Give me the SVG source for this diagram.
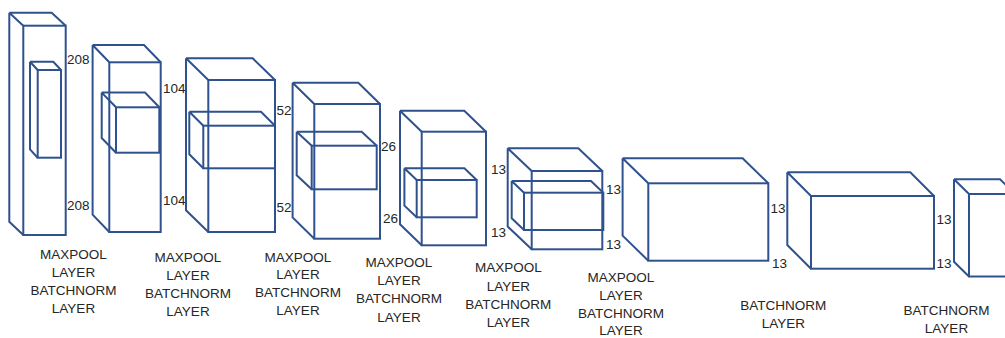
<svg xmlns="http://www.w3.org/2000/svg" width="1005" height="338" viewBox="0 0 1005 338">
<style>
.e{fill:none;stroke:#2F528F;stroke-width:2;stroke-linejoin:miter}
.t{font-family:"Liberation Sans",Arial,sans-serif;font-size:13.5px;fill:#262626}
.c{text-anchor:middle}
</style>
<rect width="1005" height="338" fill="#fff"/>
<g id="layer1">
<rect class="e" x="23.3" y="25.7" width="42.4" height="209.3"/>
<path class="e" d="M9.3,12.7H51.7L65.7,25.7M9.3,12.7L23.3,25.7M9.3,12.7V221.7L23.3,235"/>
<rect class="e" x="37.7" y="70" width="23.3" height="87.7"/>
<path class="e" d="M30,61.7H53.3L61,70M30,61.7L37.7,70M30,61.7V149.4L37.7,157.7"/>
<text class="t" x="67" y="63.8">208</text>
<text class="t" x="67" y="209.8">208</text>
<text class="t c" x="73.5" y="258.8">MAXPOOL</text>
<text class="t c" x="73.5" y="277">LAYER</text>
<text class="t c" x="73.5" y="295.2">BATCHNORM</text>
<text class="t c" x="73.5" y="313.4">LAYER</text>
</g>
<g id="layer2">
<rect class="e" x="109.3" y="62.3" width="51.4" height="169.7"/>
<path class="e" d="M92.6,45H144L160.7,62.3M92.6,45L109.3,62.3M92.6,45V214.7L109.3,232"/>
<rect class="e" x="116" y="107.3" width="43.3" height="45.4"/>
<path class="e" d="M101.7,92.6H145L159.3,107.3M101.7,92.6L116,107.3M101.7,92.6V138L116,152.7"/>
<text class="t" x="163" y="93">104</text>
<text class="t" x="163" y="205">104</text>
<text class="t c" x="188" y="261.5">MAXPOOL</text>
<text class="t c" x="188" y="279.8">LAYER</text>
<text class="t c" x="188" y="298">BATCHNORM</text>
<text class="t c" x="188" y="316.3">LAYER</text>
</g>
<g id="layer3">
<rect class="e" x="208.3" y="80" width="66.7" height="152"/>
<path class="e" d="M186,58.3H252.7L275,80M186,58.3L208.3,80M186,58.3V210.3L208.3,232"/>
<rect class="e" x="203.3" y="125.7" width="71.7" height="42.6"/>
<path class="e" d="M189.3,111.7H261L275,125.7M189.3,111.7L203.3,125.7M189.3,111.7V154.3L203.3,168.3"/>
<text class="t" x="276.5" y="114.8">52</text>
<text class="t" x="276.5" y="212.1">52</text>
<text class="t c" x="298" y="261.5">MAXPOOL</text>
<text class="t c" x="298" y="279.2">LAYER</text>
<text class="t c" x="298" y="297.2">BATCHNORM</text>
<text class="t c" x="298" y="314.9">LAYER</text>
</g>
<g id="layer4">
<rect class="e" x="314.3" y="104" width="65.7" height="134.7"/>
<path class="e" d="M292.6,82.7H358.3L380,104M292.6,82.7L314.3,104M292.6,82.7V217.4L314.3,238.7"/>
<rect class="e" x="311.7" y="145.7" width="65" height="43.6"/>
<path class="e" d="M296.7,131.7H361.7L376.7,145.7M296.7,131.7L311.7,145.7M296.7,131.7V175.3L311.7,189.3"/>
<text class="t" x="381" y="150.8">26</text>
<text class="t" x="383" y="222.8">26</text>
<text class="t c" x="399" y="266.5">MAXPOOL</text>
<text class="t c" x="399" y="284.8">LAYER</text>
<text class="t c" x="399" y="303.1">BATCHNORM</text>
<text class="t c" x="399" y="321.5">LAYER</text>
</g>
<g id="layer5">
<rect class="e" x="421.7" y="131.7" width="64.3" height="113.6"/>
<path class="e" d="M400,110.7H464.3L486,131.7M400,110.7L421.7,131.7M400,110.7V224.3L421.7,245.3"/>
<rect class="e" x="416.7" y="180" width="60" height="37.3"/>
<path class="e" d="M404.4,168.3H464.4L476.7,180M404.4,168.3L416.7,180M404.4,168.3V205.6L416.7,217.3"/>
<text class="t" x="491" y="174.1">13</text>
<text class="t" x="491" y="236.5">13</text>
<text class="t c" x="508.3" y="272.1">MAXPOOL</text>
<text class="t c" x="508.3" y="290.8">LAYER</text>
<text class="t c" x="508.3" y="309.1">BATCHNORM</text>
<text class="t c" x="508.3" y="327.1">LAYER</text>
</g>
<g id="layer6">
<rect class="e" x="531.7" y="171" width="70.6" height="78.3"/>
<path class="e" d="M507.7,148.3H578.3L602.3,171M507.7,148.3L531.7,171M507.7,148.3V226.6L531.7,249.3"/>
<rect class="e" x="524" y="192.7" width="79.3" height="37.3"/>
<path class="e" d="M511.7,181H591L603.3,192.7M511.7,181L524,192.7M511.7,181V218.3L524,230"/>
<text class="t" x="606" y="193.9">13</text>
<text class="t" x="606" y="249">13</text>
<text class="t c" x="621" y="281.8">MAXPOOL</text>
<text class="t c" x="621" y="299.8">LAYER</text>
<text class="t c" x="621" y="317.8">BATCHNORM</text>
<text class="t c" x="621" y="335.3">LAYER</text>
</g>
<g id="layer7">
<rect class="e" x="648.3" y="183.3" width="120" height="77.4"/>
<path class="e" d="M622.6,158.3H742.6L768.3,183.3M622.6,158.3L648.3,183.3M622.6,158.3V235.7L648.3,260.7"/>
<text class="t" x="770.5" y="213">13</text>
<text class="t" x="772" y="267.5">13</text>
<text class="t c" x="783.3" y="309.8">BATCHNORM</text>
<text class="t c" x="783.3" y="328.1">LAYER</text>
</g>
<g id="layer8">
<rect class="e" x="811" y="196" width="123" height="72.7"/>
<path class="e" d="M787.3,172.3H910.3L934,196M787.3,172.3L811,196M787.3,172.3V245L811,268.7"/>
<text class="t" x="936.5" y="224">13</text>
<text class="t" x="936.5" y="268">13</text>
<text class="t c" x="946.5" y="314.8">BATCHNORM</text>
<text class="t c" x="946.5" y="332.5">LAYER</text>
</g>
<g id="layer9">
<rect class="e" x="969" y="194" width="46" height="82.5"/>
<path class="e" d="M954,179.3H1000L1015,194M954,179.3L969,194M954,179.3V261.8L969,276.5"/>
</g>
<g id="connectors"/>
</svg>
